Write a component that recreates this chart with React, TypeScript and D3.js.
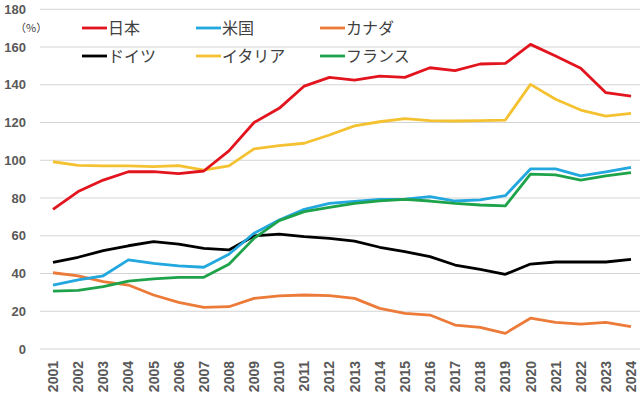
import React, { useEffect, useRef } from 'react';
import * as d3 from 'd3';

const years = d3.range(2001, 2025).map(String);

const japan = [74, 83.4, 89.5, 93.9, 94, 92.9, 94.3, 105, 120, 127.5, 139.3, 143.9, 142.5, 144.6, 143.9, 149, 147.5, 151, 151.3, 161.4, 155.2, 148.7, 135.8, 134];
const usa = [33.9, 36.6, 38.8, 47.2, 45.4, 44, 43.3, 50.2, 61.3, 68.3, 74, 77.2, 78.2, 79.3, 79.4, 80.7, 78.4, 79, 81.2, 95.4, 95.4, 91.7, 93.9, 96.2];
const canada = [40.4, 38.7, 35.7, 33.9, 28.6, 24.7, 22.1, 22.4, 26.8, 28.1, 28.6, 28.3, 26.8, 21.5, 18.9, 18, 12.7, 11.5, 8.3, 16.3, 14.1, 13.2, 14.1, 11.8];
const germany = [45.9, 48.6, 52.1, 54.7, 56.9, 55.6, 53.3, 52.5, 59.9, 60.9, 59.5, 58.6, 57.2, 53.9, 51.6, 48.9, 44.5, 42.2, 39.6, 45, 46.1, 46.1, 46.1, 47.5];
const italy = [99.2, 97.3, 97, 97, 96.6, 97.2, 94.8, 97, 106, 107.7, 109, 113.4, 118.2, 120.4, 122, 121, 120.8, 121, 121.3, 140.2, 132.3, 126.6, 123.4, 124.8];
const france = [30.7, 31.1, 33, 36, 37.1, 38, 38, 44.9, 58.6, 68, 72.8, 75, 77.2, 78.5, 79.3, 78.4, 77.2, 76.3, 75.8, 92.7, 92.2, 89.5, 91.7, 93.4];

const seriesNames = ['日本', '米国', 'カナダ', 'ドイツ', 'イタリア', 'フランス'];
const seriesValues = [japan, usa, canada, germany, italy, france];
const seriesColors = ['#e2141d', '#22a7de', '#ec7b39', '#000000', '#f4c231', '#1ea34b'];
const yTicks = [0, 20, 40, 60, 80, 100, 120, 140, 160, 180];

const W = 640;
const H = 397;

const App = () => {
  const svgRef = useRef<SVGSVGElement>(null);

  useEffect(() => {
    if (!svgRef.current) return;
    const svg = d3.select(svgRef.current);
    svg.selectAll('*').remove();

    const x = d3.scalePoint<string>().domain(years).range([53, 631]);
    const y = d3.scaleLinear().domain([0, 180]).range([349, 9.25]);

    // grid lines
    svg.append('g')
      .selectAll('line')
      .data(yTicks)
      .enter()
      .append('line')
      .attr('x1', 40)
      .attr('x2', 640)
      .attr('y1', d => y(d))
      .attr('y2', d => y(d))
      .attr('stroke', '#d4d4d4')
      .attr('stroke-width', 1);

    // y tick labels
    svg.append('g')
      .selectAll('text')
      .data(yTicks)
      .enter()
      .append('text')
      .attr('x', 26)
      .attr('y', d => y(d))
      .attr('dy', '0.36em')
      .attr('text-anchor', 'end')
      .attr('font-family', 'Liberation Sans, Arial, sans-serif')
      .attr('font-weight', 'bold')
      .attr('font-size', 13)
      .attr('fill', '#595959')
      .text(d => d);

    svg.append('text')
      .attr('x', 15)
      .attr('y', 32)
      .attr('font-family', 'Noto Sans CJK JP, sans-serif')
      .attr('font-size', 11)
      .attr('fill', '#404040')
      .text('（%）');

    // x tick labels
    svg.append('g')
      .selectAll('text')
      .data(years)
      .enter()
      .append('text')
      .attr('transform', d => `translate(${x(d)},361) rotate(-90)`)
      .attr('dy', '0.36em')
      .attr('text-anchor', 'end')
      .attr('font-family', 'Liberation Sans, Arial, sans-serif')
      .attr('font-weight', 'bold')
      .attr('font-size', 14)
      .attr('fill', '#595959')
      .text(d => d);

    // lines
    const line = d3.line<number>()
      .x((_, i) => x(years[i]) as number)
      .y(d => y(d));

    const order = [2, 3, 1, 5, 4, 0];
    order.forEach(k => {
      svg.append('path')
        .datum(seriesValues[k])
        .attr('fill', 'none')
        .attr('stroke', seriesColors[k])
        .attr('stroke-width', 2.8)
        .attr('stroke-linejoin', 'round')
        .attr('d', line);
    });

    // legend
    const legendX = [82, 196, 320];
    const legendY = [28, 56];
    seriesNames.forEach((name, i) => {
      const lx = legendX[i % 3];
      const ly = legendY[Math.floor(i / 3)];
      const g = svg.append('g').attr('transform', `translate(${lx},${ly})`);
      g.append('line')
        .attr('x1', 0)
        .attr('x2', 25)
        .attr('y1', 0)
        .attr('y2', 0)
        .attr('stroke', seriesColors[i])
        .attr('stroke-width', 2.8);
      g.append('text')
        .attr('x', 26)
        .attr('y', 0)
        .attr('dy', '0.36em')
        .attr('font-family', 'Noto Sans CJK JP, sans-serif')
        .attr('font-size', 16)
        .attr('fill', '#404040')
        .text(name);
    });
  }, []);

  return (
    <svg
      ref={svgRef}
      width={W}
      height={H}
      style={{ position: 'fixed', left: 0, top: 0, background: '#fff' }}
    />
  );
};

export default App;
